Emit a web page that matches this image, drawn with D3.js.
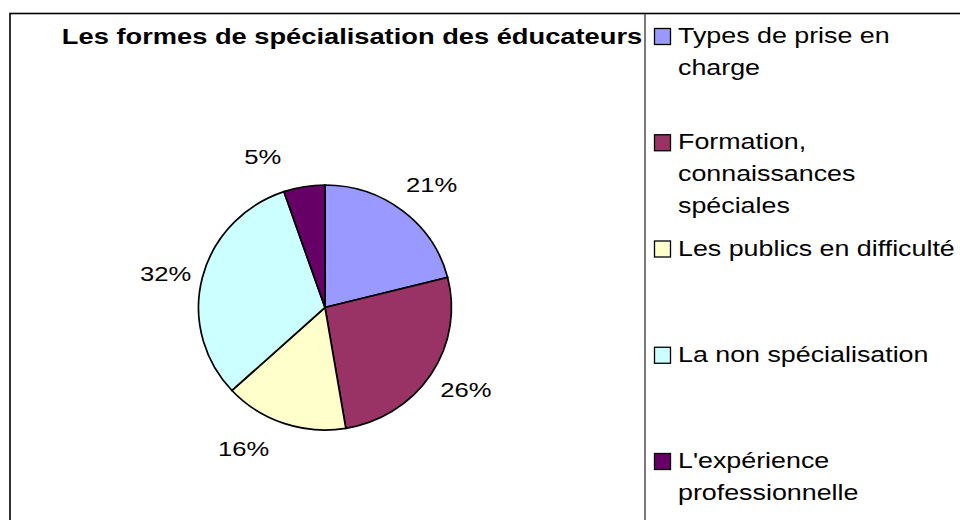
<!DOCTYPE html>
<html>
<head>
<meta charset="utf-8">
<script src="https://cdn.jsdelivr.net/npm/d3@7"></script>
<style>
  body { margin: 0; background: #fff; }
  svg { display: block; font-family: "Liberation Sans", Arial, sans-serif; }
</style>
</head>
<body>
<svg id="chart" width="960" height="520"></svg>
<script>
// data
const categories = [
  'Types de prise en\ncharge',
  'Formation,\nconnaissances\nspéciales',
  'Les publics en difficulté',
  'La non spécialisation',
  "L'expérience\nprofessionnelle"
];
const counts = [4, 5, 3, 6, 1];
const colors = ['#9999FF', '#993366', '#FFFFCC', '#CCFFFF', '#660066'];
const title = 'Les formes de spécialisation des éducateurs';

// label angle nudges (degrees) to mimic the original label placement
const labelNudge = [3, -3, 11, -2, -13];

// the original's text is drawn a bit wider than tall
const stretch = 1.22;

const svg = d3.select('#chart');
const W = 960, H = 520;

svg.append('rect').attr('width', W).attr('height', H).attr('fill', '#fff');

// frame + legend separator
svg.append('rect')
  .attr('x', 10).attr('y', 13.5)
  .attr('width', W).attr('height', H)
  .attr('fill', 'none').attr('stroke', '#000').attr('stroke-width', 1.6);
svg.append('line')
  .attr('x1', 645).attr('x2', 645).attr('y1', 13.5).attr('y2', H)
  .attr('stroke', '#222').attr('stroke-width', 1.2);

// title
svg.append('text')
  .attr('transform', `translate(352,44) scale(1.24,1)`)
  .attr('text-anchor', 'middle')
  .attr('font-weight', 'bold')
  .attr('font-size', 22)
  .text(title);

// pie
const cx = 325, cy = 307.5, rx = 126.5, ry = 122.5;
const pie = d3.pie().value(d => d).sort(null);
const arcs = pie(counts);
const total = d3.sum(counts);
const arc = d3.arc().innerRadius(0).outerRadius(rx);

const g = svg.append('g').attr('transform', `translate(${cx},${cy})`);
g.append('g')
  .attr('transform', `scale(1,${ry / rx})`)
  .selectAll('path')
  .data(arcs)
  .join('path')
  .attr('d', arc)
  .attr('fill', (d, i) => colors[i])
  .attr('stroke', '#000')
  .attr('stroke-width', 1.7)
  .attr('vector-effect', 'non-scaling-stroke');

// percentage labels
const labelR = 163;
g.selectAll('text.pct')
  .data(arcs)
  .join('text')
  .attr('class', 'pct')
  .attr('transform', (d, i) => {
    const a = (d.startAngle + d.endAngle) / 2 + labelNudge[i] * Math.PI / 180;
    return `translate(${labelR * Math.sin(a)},${-labelR * Math.cos(a)}) scale(${stretch},1)`;
  })
  .attr('text-anchor', 'middle')
  .attr('dy', '0.36em')
  .attr('font-size', 21)
  .text(d => `${Math.round(d.value / total * 100)}%`);

// legend
const ly = d3.scalePoint().domain(d3.range(categories.length)).range([43, 468]);
const legend = svg.append('g');
const item = legend.selectAll('g')
  .data(categories)
  .join('g')
  .attr('transform', (d, i) => `translate(654,${ly(i)})`);

item.append('rect')
  .attr('x', 0.5).attr('y', -14.5)
  .attr('width', 16).attr('height', 16)
  .attr('fill', (d, i) => colors[i])
  .attr('stroke', '#000').attr('stroke-width', 1.3);

item.append('text')
  .attr('transform', `translate(24,0) scale(${stretch},1)`)
  .attr('font-size', 22)
  .selectAll('tspan')
  .data(d => d.split('\n'))
  .join('tspan')
  .attr('x', 0)
  .attr('y', (d, j) => j * 32)
  .text(d => d);
</script>
</body>
</html>
